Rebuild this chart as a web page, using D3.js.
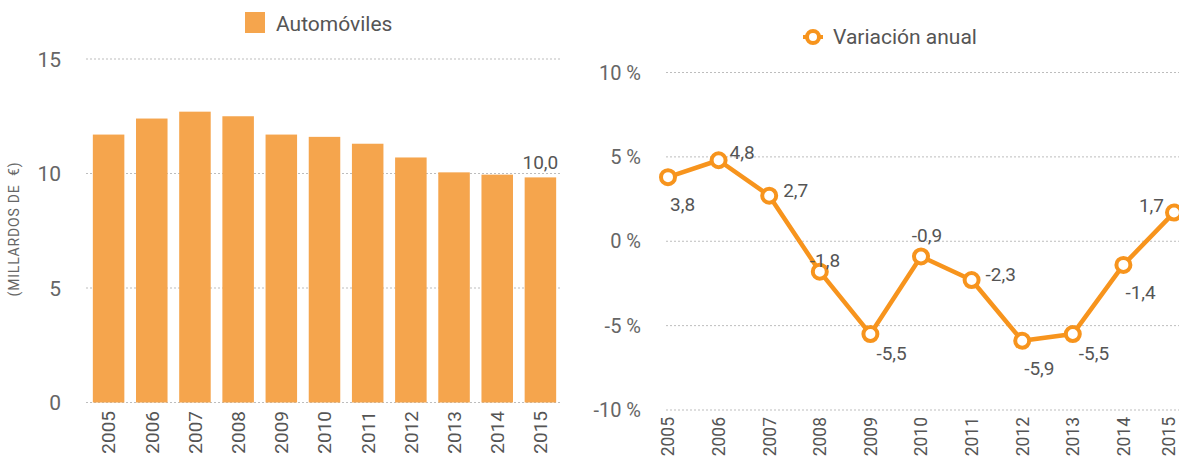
<!DOCTYPE html>
<html>
<head>
<meta charset="utf-8">
<script src="https://cdn.jsdelivr.net/npm/d3@7"></script>
<style>
  body { margin: 0; background: #fff; }
  svg text { font-family: Roboto, "Noto Sans", sans-serif; fill: #555; }
</style>
</head>
<body>
<svg id="chart" width="1179" height="459"></svg>
<script>
// data
const years = ["2005", "2006", "2007", "2008", "2009", "2010", "2011", "2012", "2013", "2014", "2015"];
const autos = [11.7, 12.4, 12.7, 12.5, 11.7, 11.6, 11.3, 10.7, 10.05, 9.95, 9.83];
const autosLastLabel = "10,0";
const leftTicks = [0, 5, 10, 15];

const variation = [3.8, 4.8, 2.7, -1.8, -5.5, -0.9, -2.3, -5.9, -5.5, -1.4, 1.7];
const rightTicks = [-10, -5, 0, 5, 10];
// where each value label sits relative to its point
const labelPlacement = ["below", "right-up", "right", "left-up", "below-right", "above",
                        "right", "below", "below-right", "below", "left"];

const barColor = "#F5A54D";
const lineColor = "#F7941D";
const gridColor = "#bdbdbd";

const svg = d3.select("#chart");
const fmt = v => v.toFixed(1).replace(".", ",");

// ---------- left: bars ----------
let x1 = d3.scaleBand().domain(years).range([87, 562]).paddingInner(0.27).paddingOuter(0.135);
let y1 = d3.scaleLinear().domain([0, 15]).range([402.5, 59]);

let left = svg.append("g");

left.append("g")
    .selectAll("line")
    .data(leftTicks)
    .enter().append("line")
    .attr("x1", 86).attr("x2", 560)
    .attr("y1", d => y1(d)).attr("y2", d => y1(d))
    .attr("stroke", gridColor)
    .attr("stroke-dasharray", "2,2");

left.append("g")
    .selectAll("rect")
    .data(autos)
    .enter().append("rect")
    .attr("x", (d, i) => x1(years[i]))
    .attr("width", x1.bandwidth())
    .attr("y", d => y1(d))
    .attr("height", d => y1(0) - y1(d))
    .attr("fill", barColor);

left.append("text")
    .attr("x", x1(years[years.length - 1]) + x1.bandwidth() / 2)
    .attr("y", y1(autos[autos.length - 1]) - 8)
    .attr("text-anchor", "middle")
    .style("font-size", "19px")
    .text(autosLastLabel);

left.append("g")
    .selectAll("text")
    .data(leftTicks)
    .enter().append("text")
    .attr("x", 61)
    .attr("y", d => y1(d))
    .attr("dy", "0.36em")
    .attr("text-anchor", "end")
    .style("font-size", "21px")
    .style("fill", "#666")
    .text(d => d);

left.append("g")
    .selectAll("text")
    .data(years)
    .enter().append("text")
    .attr("transform", d => "translate(" + (x1(d) + x1.bandwidth() / 2) + ",411) rotate(-90)")
    .attr("dy", "0.36em")
    .attr("text-anchor", "end")
    .style("font-size", "19px")
    .text(d => d);

left.append("text")
    .attr("transform", "translate(14,229) rotate(-90)")
    .attr("dy", "0.35em")
    .attr("text-anchor", "middle")
    .style("font-size", "14px")
    .style("letter-spacing", "0.8px")
    .style("fill", "#666")
    .style("white-space", "pre")
    .text("(MILLARDOS DE  €)");

// legend
left.append("rect")
    .attr("x", 245).attr("y", 12)
    .attr("width", 20).attr("height", 21)
    .attr("fill", barColor);
left.append("text")
    .attr("x", 276).attr("y", 31)
    .style("font-size", "21px")
    .text("Automóviles");

// ---------- right: line ----------
let x2 = d3.scalePoint().domain(years).range([668, 1174]);
let y2 = d3.scaleLinear().domain([-10, 10]).range([410, 72.5]);

let right = svg.append("g");

right.append("g")
    .selectAll("line")
    .data(rightTicks)
    .enter().append("line")
    .attr("x1", 666).attr("x2", 1179)
    .attr("y1", d => y2(d)).attr("y2", d => y2(d))
    .attr("stroke", gridColor)
    .attr("stroke-dasharray", "2,2");

right.append("g")
    .selectAll("text")
    .data(rightTicks)
    .enter().append("text")
    .attr("x", 641)
    .attr("y", d => y2(d))
    .attr("dy", "0.36em")
    .attr("text-anchor", "end")
    .style("font-size", "20px")
    .style("fill", "#666")
    .text(d => d + " %");

// year labels: the reference lets these run off the edges, kept just inside here
right.append("g")
    .selectAll("text")
    .data(years)
    .enter().append("text")
    .attr("transform", d => "translate(" + Math.min(x2(d), 1169) + ",417) rotate(-90)")
    .attr("dy", "0.36em")
    .attr("text-anchor", "end")
    .style("font-size", "17.5px")
    .text(d => d);

let line = d3.line()
    .x((d, i) => x2(years[i]))
    .y(d => y2(d));

right.append("path")
    .datum(variation)
    .attr("d", line)
    .attr("fill", "none")
    .attr("stroke", lineColor)
    .attr("stroke-width", 4.5)
    .attr("stroke-linejoin", "round");

right.append("g")
    .selectAll("circle")
    .data(variation)
    .enter().append("circle")
    .attr("cx", (d, i) => x2(years[i]))
    .attr("cy", d => y2(d))
    .attr("r", 7)
    .attr("fill", "#fff")
    .attr("stroke", lineColor)
    .attr("stroke-width", 4);

const placeOffsets = {
    "below": [2, 34, "start"],
    "right-up": [11, -1, "start"],
    "right": [14, 1, "start"],
    "left-up": [-10, -5, "start"],
    "below-right": [6, 26, "start"],
    "above": [6, -14, "middle"],
    "left": [-10, -1, "end"]
};

right.append("g")
    .selectAll("text")
    .data(variation)
    .enter().append("text")
    .attr("x", (d, i) => x2(years[i]) + placeOffsets[labelPlacement[i]][0])
    .attr("y", (d, i) => y2(d) + placeOffsets[labelPlacement[i]][1])
    .attr("text-anchor", (d, i) => placeOffsets[labelPlacement[i]][2])
    .style("font-size", "19px")
    .text(d => fmt(d));

// legend
let lg = right.append("g").attr("transform", "translate(813,37)");
lg.append("line")
    .attr("x1", -10).attr("x2", 10)
    .attr("stroke", lineColor).attr("stroke-width", 4);
lg.append("circle")
    .attr("r", 6)
    .attr("fill", "#fff")
    .attr("stroke", lineColor)
    .attr("stroke-width", 4);
right.append("text")
    .attr("x", 833).attr("y", 44)
    .style("font-size", "21px")
    .text("Variación anual");
</script>
</body>
</html>
